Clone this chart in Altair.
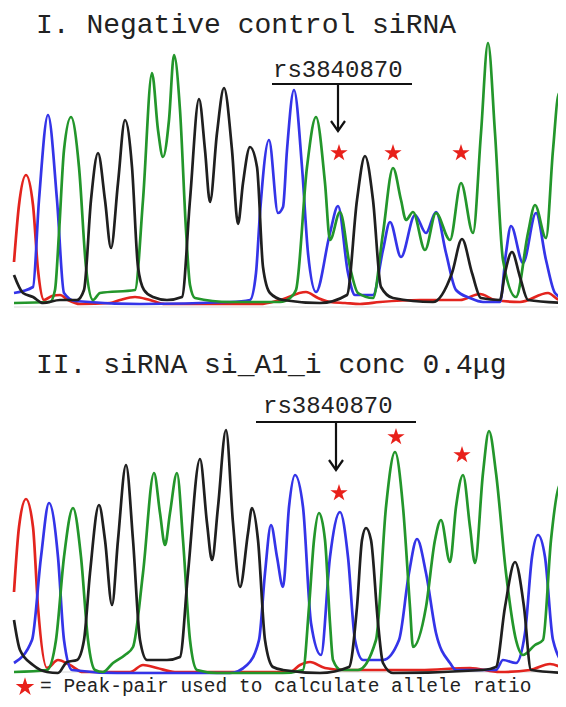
import altair as alt
import pandas as pd

# ---------------- data: trace vertices (x, y) (image pixel coords) ----------------
# Panel I : Negative control siRNA
red_1 = [(14,262),(19,205),(26,175),(33,205),(38,270),(44,300),(52,296),(60,295),(68,300),(80,304),(110,303),
         (120,300),(135,297),(150,300),(165,304),(260,304),(280,300),(306,292),(318,298),(330,302),(345,303),
         (360,304),(380,302),(420,300),(460,300),(480,294),(495,300),(520,302),(548,293),(560,300),(566,300)]
blue_1 = [(14,293),(33,287),(39,200),(48,115),(57,200),(64,293),(75,301),(140,304),(230,302),(250,300),(256,273),
          (260,213),(269,140),(278,213),(283,207),(287,150),(294,90),(302,167),(308,253),(316,292),(330,233),
          (338,206),(348,273),(355,295),(373,295),(383,250),(390,222),(401,257),(415,215),(426,233),(436,212),
          (446,253),(456,290),(470,298),(483,302),(500,302),(506,253),(511,226),(523,263),(536,213),(546,260),
          (555,293),(566,300)]
green_1 = [(14,303),(50,302),(55,290),(59,233),(64,150),(71,117),(79,167),(86,267),(93,300),(100,293),(135,290),
           (143,200),(152,73),(158,130),(163,157),(169,120),(174,55),(180,110),(186,230),(190,285),(195,298),
           (230,302),(280,302),(290,298),(296,290),(307,167),(316,117),(325,183),(330,240),(340,212),(350,267),
           (358,293),(373,298),(383,233),(393,168),(401,200),(406,220),(413,212),(425,250),(436,213),(450,240),
           (461,183),(473,233),(481,133),(488,43),(495,133),(503,260),(516,297),(528,233),(535,205),(546,238),
           (553,150),(559,93),(566,120)]
black_1 = [(14,275),(23,293),(33,297),(43,303),(60,300),(77,300),(84,290),(91,200),(98,153),(105,200),(111,248),
           (118,183),(125,120),(132,167),(138,267),(144,290),(153,297),(167,300),(182,297),(190,200),(199,99),
           (205,150),(210,202),(217,133),(224,88),(232,150),(238,224),(243,183),(250,147),(257,167),(263,267),
           (270,293),(283,300),(320,303),(347,295),(357,200),(365,156),(373,200),(381,287),(393,298),(433,302),
           (452,273),(462,239),(472,273),(481,298),(500,300),(505,273),(512,252),(520,277),(528,300),(566,303)]

# Panel II : siRNA si_A1_i conc 0.4ug
red_2 = [(14,592),(19,527),(26,499),(33,527),(38,607),(47,668),(58,660),(70,665),(83,672),(130,672),(143,665),
         (157,668),(175,672),(290,672),(300,665),(310,662),(325,668),(345,670),(380,670),(420,670),(470,668),
         (500,672),(530,670),(550,664),(566,670)]
blue_2 = [(14,663),(32,640),(41,557),(49,503),(58,557),(64,640),(72,670),(117,673),(230,673),(247,665),(259,640),
          (265,573),(271,525),(277,557),(283,587),(289,507),(295,475),(303,507),(311,623),(321,655),(330,557),
          (340,512),(348,557),(355,640),(363,660),(383,660),(399,640),(409,573),(417,539),(426,573),(436,633),
          (450,663),(456,670),(496,670),(503,660),(516,663),(525,633),(532,557),(538,535),(545,557),(553,640),
          (566,667)]
green_2 = [(14,672),(47,670),(56,640),(64,557),(73,508),(81,557),(88,640),(95,670),(103,672),(113,663),(125,655),
           (133,647),(143,573),(154,473),(160,513),(165,545),(170,513),(177,473),(183,540),(190,640),(197,670),
           (217,673),(283,673),(303,670),(309,607),(314,540),(319,513),(325,540),(330,623),(333,660),(341,670),
           (358,670),(376,640),(386,507),(395,452),(403,507),(410,607),(413,647),(426,607),(435,540),(441,520),
           (450,562),(456,507),(463,475),(470,527),(475,563),(483,473),(489,431),(496,473),(506,573),(516,640),
           (523,655),(535,645),(543,640),(551,540),(561,483),(566,500)]
black_2 = [(14,620),(20,650),(33,665),(47,672),(58,673),(67,662),(77,660),(84,640),(90,573),(99,505),(105,540),
           (112,605),(118,540),(126,465),(133,540),(140,640),(147,660),(167,660),(180,657),(188,573),(200,459),
           (207,523),(212,560),(218,507),(226,430),(233,523),(240,587),(248,533),(252,508),(258,540),(265,640),
           (273,667),(283,670),(320,673),(349,667),(357,607),(362,540),(366,528),(371,540),(378,623),(383,663),
           (393,673),(483,670),(496,667),(505,607),(515,562),(524,607),(531,670),(566,673)]

trace_names = ["red_1", "blue_1", "green_1", "black_1", "red_2", "blue_2", "green_2", "black_2"]
trace_points = [red_1, blue_1, green_1, black_1, red_2, blue_2, green_2, black_2]
trace_colors = ["red", "blue", "green", "black", "red", "blue", "green", "black"]

color_domain = ["red", "blue", "green", "black"]
color_range = ["#e3241e", "#3434e8", "#23962b", "#1f1f1f"]

# texts
title_text = ["I. Negative control siRNA", "II. siRNA si_A1_i conc 0.4\u03bcg"]
title_x = [36, 36]
title_y = [33, 373]
snp_text = ["rs3840870", "rs3840870"]
snp_x = [273, 263]
snp_y = [77, 413]
# bracket lines over SNP label
bar_x = [272, 256]
bar_x2 = [412, 416]
bar_y = [84, 422]
# arrows
arrow_x = [338, 336]
arrow_y = [84, 422]
arrow_y2 = [131, 470]
# stars marking peak pairs
star_x = [339, 393, 461, 339, 396, 462]
star_y = [153, 153, 153, 493, 437, 455]
# baselines
base_y = [307, 672]
note_text = ["= Peak-pair used to calculate allele ratio"]
note_x = [40]
note_y = [692]
note_star_x = [25]
note_star_y = [687]

# ---------------- build tables ----------------
rows = []
for name, pts, col in zip(trace_names, trace_points, trace_colors):
    for i, (px, py) in enumerate(pts):
        rows.append({"x": px, "y": py, "trace": name, "color": col, "i": i})
traces = pd.DataFrame(rows)

X = alt.X("x:Q", scale=alt.Scale(domain=[8, 558]), axis=None)
Y = alt.Y("y:Q", scale=alt.Scale(domain=[8, 699], reverse=True), axis=None)

font = "Liberation Mono"

baselines = alt.Chart(pd.DataFrame({"x": [14, 14], "x2": [566, 566], "y": base_y})).mark_rule(
    color="#d8d8d8", strokeWidth=1.2, clip=True
).encode(x=X, x2="x2:Q", y=Y)

lines = alt.Chart(traces).mark_line(interpolate="monotone", strokeWidth=2.7, clip=True).encode(
    x=X, y=Y,
    color=alt.Color("color:N", scale=alt.Scale(domain=color_domain, range=color_range), legend=None),
    detail="trace:N",
    order="i:Q",
)

titles = alt.Chart(pd.DataFrame({"x": title_x, "y": title_y, "t": title_text})).mark_text(
    font=font, fontSize=28, align="left", baseline="alphabetic", color="#222222"
).encode(x=X, y=Y, text="t:N")

snp = alt.Chart(pd.DataFrame({"x": snp_x, "y": snp_y, "t": snp_text})).mark_text(
    font=font, fontSize=24, align="left", baseline="alphabetic", color="#222222"
).encode(x=X, y=Y, text="t:N")

bars = alt.Chart(pd.DataFrame({"x": bar_x, "x2": bar_x2, "y": bar_y})).mark_rule(
    color="#111111", strokeWidth=2.2
).encode(x=X, x2="x2:Q", y=Y)

arrows = alt.Chart(pd.DataFrame({"x": arrow_x, "y": arrow_y, "y2": arrow_y2})).mark_rule(
    color="#111111", strokeWidth=2.2
).encode(x=X, y=Y, y2="y2:Q")

# arrow heads: chevrons
head_rows = []
for k, (ax, ay2) in enumerate(zip(arrow_x, arrow_y2)):
    for j, (dx, dy) in enumerate([(-7, -10), (0, 0), (7, -10)]):
        head_rows.append({"x": ax + dx, "y": ay2 + dy, "g": k, "i": j})
heads = alt.Chart(pd.DataFrame(head_rows)).mark_line(color="#111111", strokeWidth=2.2).encode(
    x=X, y=Y, detail="g:N", order="i:Q"
)

star_path = ("M0,-1 L0.225,-0.309 L0.951,-0.309 L0.363,0.118 L0.588,0.809 L0,0.382 "
             "L-0.588,0.809 L-0.363,0.118 L-0.951,-0.309 L-0.225,-0.309 Z")
stars = alt.Chart(pd.DataFrame({"x": star_x, "y": star_y})).mark_point(
    shape=star_path, filled=True, color="#e8201a", size=330, opacity=1
).encode(x=X, y=Y)

note_star = alt.Chart(pd.DataFrame({"x": note_star_x, "y": note_star_y})).mark_point(
    shape=star_path, filled=True, color="#e8201a", size=380, opacity=1
).encode(x=X, y=Y)

note = alt.Chart(pd.DataFrame({"x": note_x, "y": note_y, "t": note_text})).mark_text(
    font=font, fontSize=19.5, align="left", baseline="alphabetic", color="#222222"
).encode(x=X, y=Y, text="t:N")

chart = alt.layer(baselines, lines, bars, arrows, heads, stars, titles, snp, note_star, note).properties(
    width=550, height=691, autosize=alt.AutoSizeParams(type="none"), padding=0
).configure_view(stroke=None)

chart.save("out.html", embed_options={"renderer": "svg", "actions": False})
